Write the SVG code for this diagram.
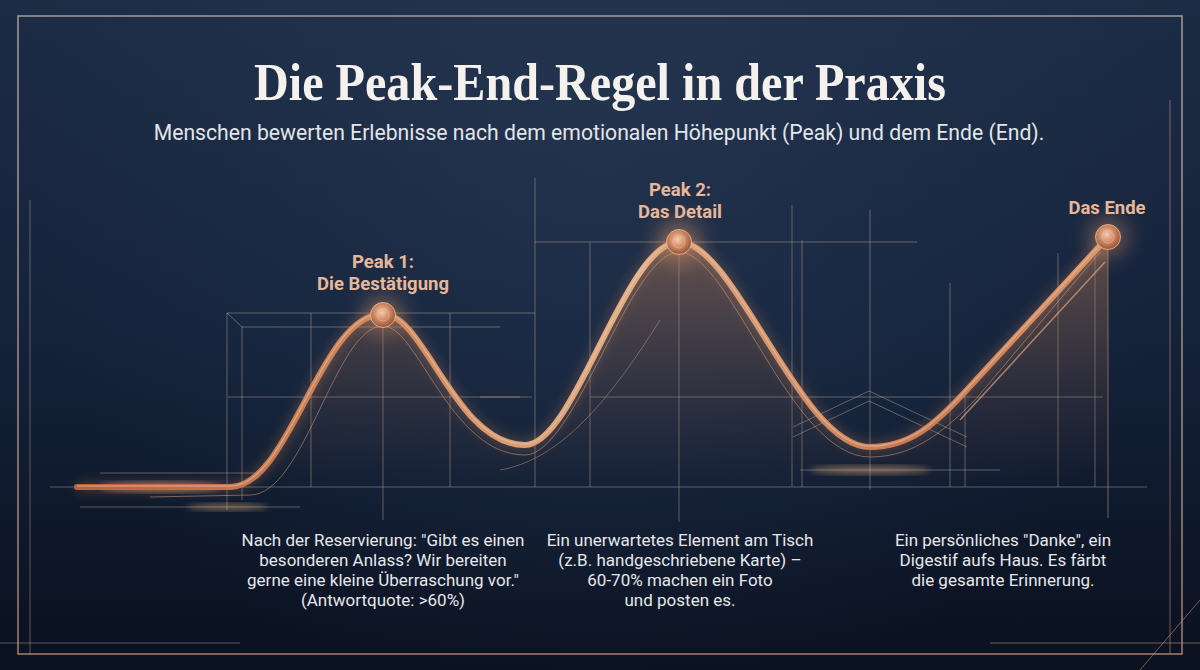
<svg xmlns="http://www.w3.org/2000/svg" width="1200" height="670" viewBox="0 0 1200 670">
<defs>
<linearGradient id="bg" x1="0" y1="0" x2="0" y2="1">
<stop offset="0" stop-color="#1d2c45"/>
<stop offset="0.5" stop-color="#14223a"/>
<stop offset="1" stop-color="#0a111f"/>
</linearGradient>
<radialGradient id="bgGlow" cx="600" cy="120" r="600" gradientUnits="userSpaceOnUse">
<stop offset="0" stop-color="#2a3c58" stop-opacity="0.55"/>
<stop offset="1" stop-color="#2a3c58" stop-opacity="0"/>
</radialGradient>
<linearGradient id="frameG" x1="0" y1="0" x2="0" y2="1">
<stop offset="0" stop-color="#b9aea6"/>
<stop offset="1" stop-color="#c49078"/>
</linearGradient>
<linearGradient id="areaG" x1="0" y1="237" x2="0" y2="487" gradientUnits="userSpaceOnUse">
<stop offset="0" stop-color="#c9845a" stop-opacity="0.42"/>
<stop offset="0.6" stop-color="#a86a48" stop-opacity="0.16"/>
<stop offset="1" stop-color="#8a5a40" stop-opacity="0"/>
</linearGradient>
<linearGradient id="tubeG" x1="77" y1="0" x2="1108" y2="0" gradientUnits="userSpaceOnUse">
<stop offset="0" stop-color="#b8623e"/>
<stop offset="0.3" stop-color="#d08a60"/>
<stop offset="0.55" stop-color="#e2b088"/>
<stop offset="0.8" stop-color="#c87a52"/>
<stop offset="1" stop-color="#d9966c"/>
</linearGradient>
<radialGradient id="knob" cx="0.45" cy="0.4" r="0.6">
<stop offset="0" stop-color="#f4ccb2"/>
<stop offset="0.45" stop-color="#d6926c"/>
<stop offset="1" stop-color="#985234"/>
</radialGradient>
<filter id="blur6" x="-20%" y="-20%" width="140%" height="140%"><feGaussianBlur stdDeviation="6"/></filter>
<filter id="blur3" x="-20%" y="-20%" width="140%" height="140%"><feGaussianBlur stdDeviation="3"/></filter>
<filter id="blur10" x="-50%" y="-50%" width="200%" height="200%"><feGaussianBlur stdDeviation="10"/></filter>
<style>
.grid{stroke:#c9b7a6;stroke-opacity:0.42;stroke-width:1;fill:none}
.gridc{stroke:#d49a78;stroke-opacity:0.55;stroke-width:1;fill:none}
.lbl{font-family:Roboto,"Liberation Sans",sans-serif;font-weight:700;font-size:18.5px;fill:#e6b89a;text-anchor:middle}
.desc{font-family:Roboto,"Liberation Sans",sans-serif;font-size:17px;fill:#e6e7ea;text-anchor:middle}
</style>
</defs>

<rect width="1200" height="670" fill="url(#bg)"/>
<rect width="1200" height="670" fill="url(#bgGlow)"/>

<!-- frame -->
<rect x="18" y="16" width="1164" height="638" fill="none" stroke="url(#frameG)" stroke-width="1.5" stroke-opacity="0.85"/>
<line x1="30" y1="200" x2="30" y2="654" class="grid" stroke-opacity="0.2"/>
<line x1="1170" y1="100" x2="1170" y2="654" class="gridc" stroke-opacity="0.35"/>
<line x1="0" y1="643" x2="240" y2="643" class="grid" stroke-opacity="0.2"/>
<line x1="990" y1="643" x2="1200" y2="643" class="gridc" stroke-opacity="0.35"/>
<line x1="1140" y1="670" x2="1200" y2="600" class="gridc" stroke-opacity="0.35"/>

<!-- title -->
<text x="600" y="100" text-anchor="middle" font-family="'Liberation Serif',serif" font-weight="700" font-size="52" fill="#f5f2ee" textLength="692" lengthAdjust="spacingAndGlyphs">Die Peak-End-Regel in der Praxis</text>
<text x="599" y="140" text-anchor="middle" font-family="Roboto,'Liberation Sans',sans-serif" font-size="21.2" fill="#e2e5ea">Menschen bewerten Erlebnisse nach dem emotionalen Höhepunkt (Peak) und dem Ende (End).</text>

<!-- grid -->
<g id="grid">
<line x1="50" y1="487" x2="1147" y2="487" class="grid"/>
<line x1="100" y1="473" x2="257" y2="473" class="grid" stroke-opacity="0.3"/>
<line x1="80" y1="507" x2="300" y2="507" class="grid" stroke-opacity="0.3"/>
<line x1="227" y1="313" x2="535" y2="313" class="grid"/>
<line x1="242" y1="327" x2="500" y2="327" class="grid" stroke-opacity="0.3"/>
<line x1="227" y1="313" x2="242" y2="327" class="grid"/>
<line x1="228" y1="397" x2="520" y2="397" class="grid"/>
<line x1="590" y1="397" x2="1103" y2="397" class="grid"/>
<line x1="480" y1="397" x2="532" y2="397" class="grid" stroke-opacity="0.3"/>
<line x1="535" y1="242" x2="917" y2="242" class="grid"/>
<line x1="227" y1="313" x2="227" y2="510" class="grid"/>
<line x1="242" y1="327" x2="242" y2="500" class="grid"/>
<line x1="311" y1="313" x2="311" y2="487" class="grid"/>
<line x1="383" y1="326" x2="383" y2="520" class="grid"/>
<line x1="450" y1="313" x2="450" y2="487" class="grid"/>
<line x1="535" y1="178" x2="535" y2="487" class="grid"/>
<line x1="590" y1="243" x2="590" y2="487" class="grid"/>
<line x1="679" y1="255" x2="679" y2="522" class="grid"/>
<line x1="792" y1="205" x2="792" y2="487" class="grid"/>
<line x1="802" y1="240" x2="802" y2="487" class="grid"/>
<line x1="870" y1="210" x2="870" y2="490" class="grid"/>
<line x1="950" y1="283" x2="950" y2="487" class="grid"/>
<line x1="965" y1="397" x2="965" y2="487" class="grid"/>
<line x1="1058" y1="253" x2="1058" y2="487" class="grid"/>
<line x1="1095" y1="253" x2="1095" y2="487" class="grid"/>
<line x1="1108" y1="250" x2="1108" y2="518" class="gridc"/>
<line x1="800" y1="470" x2="1000" y2="470" class="grid" stroke-opacity="0.3"/>
<polyline points="793,427 869,391 967,437" class="grid"/>
<polyline points="793,437 869,401 967,447" class="grid" stroke-opacity="0.3"/>
</g>

<!-- area fill -->
<path d="M 77 487 L 230 487 C 290 487 320 314 383 314 C 425 314 455 445 525 445 C 575 445 625 242 679 242 C 735 242 800 447 870 447 C 910 447 935 424 963 394 L 1108 237 L 1108 487 Z" fill="url(#areaG)"/>

<!-- glows -->
<ellipse cx="160" cy="487" rx="60" ry="5" fill="#f2b880" opacity="0.5" filter="url(#blur3)"/>
<ellipse cx="227" cy="507" rx="40" ry="3" fill="#f2b880" opacity="0.5" filter="url(#blur3)"/>
<ellipse cx="870" cy="470" rx="60" ry="4" fill="#f2b880" opacity="0.45" filter="url(#blur3)"/>

<g id="connectors">
<path d="M 77 487 L 230 487 C 290 487 320 314 383 314 C 425 314 455 445 525 445 C 575 445 625 242 679 242 C 735 242 800 447 870 447 C 910 447 935 424 963 394 L 1108 237" fill="none" stroke="#d88a5c" stroke-width="9" stroke-opacity="0.3" filter="url(#blur6)"/>
<path d="M 150 497 L 250 495 C 305 495 335 326 383 326 C 418 326 450 455 525 455 C 575 455 630 252 679 252 C 730 252 790 457 870 457 C 915 457 945 430 975 400 L 1100 252" fill="none" stroke="#d8a888" stroke-width="1" stroke-opacity="0.5"/>
<path d="M 500 470 C 560 460 610 400 660 320" fill="none" stroke="#e0a07a" stroke-width="1" stroke-opacity="0.45"/>
<path d="M 960 420 L 1105 262" fill="none" stroke="#f0b888" stroke-width="1.5" stroke-opacity="0.6"/>
<path d="M 77 487 L 230 487 C 290 487 320 314 383 314 C 425 314 455 445 525 445 C 575 445 625 242 679 242 C 735 242 800 447 870 447 C 910 447 935 424 963 394 L 1108 237" fill="none" stroke="url(#tubeG)" stroke-width="6" stroke-linecap="round"/>
<path d="M 77 486 L 230 486 C 290 486 320 313 383 313 C 425 313 455 444 525 444 C 575 444 625 241 679 241 C 735 241 800 446 870 446 C 910 446 935 423 963 393 L 1108 236" fill="none" stroke="#f2d0b0" stroke-width="1.5" stroke-opacity="0.45"/>
</g>

<g id="peak1">
<circle cx="383" cy="315" r="20" fill="#e0986a" opacity="0.4" filter="url(#blur10)"/>
<circle cx="383" cy="315" r="12.5" fill="url(#knob)" stroke="#f0c0a0" stroke-width="0.8"/>
<circle cx="383" cy="315" r="6" fill="none" stroke="#f4cdb2" stroke-opacity="0.45"/>
<text class="lbl" x="383" y="268">Peak 1:</text>
<text class="lbl" x="383" y="290">Die Bestätigung</text>
</g>

<g id="peak2">
<circle cx="679" cy="242" r="22" fill="#e0986a" opacity="0.45" filter="url(#blur10)"/>
<circle cx="679" cy="242" r="12.5" fill="url(#knob)" stroke="#f0c0a0" stroke-width="0.8"/>
<circle cx="679" cy="242" r="6" fill="none" stroke="#f4cdb2" stroke-opacity="0.45"/>
<text class="lbl" x="680" y="196">Peak 2:</text>
<text class="lbl" x="680" y="218">Das Detail</text>
</g>

<g id="end">
<circle cx="1108" cy="237" r="20" fill="#e0986a" opacity="0.4" filter="url(#blur10)"/>
<circle cx="1108" cy="237" r="12.5" fill="url(#knob)" stroke="#f0c0a0" stroke-width="0.8"/>
<circle cx="1108" cy="237" r="6" fill="none" stroke="#f4cdb2" stroke-opacity="0.45"/>
<text class="lbl" x="1107" y="214">Das Ende</text>
</g>

<g id="text1">
<text class="desc" x="383" y="546">Nach der Reservierung: "Gibt es einen</text>
<text class="desc" x="383" y="566">besonderen Anlass? Wir bereiten</text>
<text class="desc" x="383" y="586">gerne eine kleine Überraschung vor."</text>
<text class="desc" x="383" y="606">(Antwortquote: &gt;60%)</text>
</g>
<g id="text2">
<text class="desc" x="680" y="546">Ein unerwartetes Element am Tisch</text>
<text class="desc" x="680" y="566">(z.B. handgeschriebene Karte) –</text>
<text class="desc" x="680" y="586">60-70% machen ein Foto</text>
<text class="desc" x="680" y="606">und posten es.</text>
</g>
<g id="text3">
<text class="desc" x="1003" y="546">Ein persönliches "Danke", ein</text>
<text class="desc" x="1003" y="566">Digestif aufs Haus. Es färbt</text>
<text class="desc" x="1003" y="586">die gesamte Erinnerung.</text>
</g>
</svg>
